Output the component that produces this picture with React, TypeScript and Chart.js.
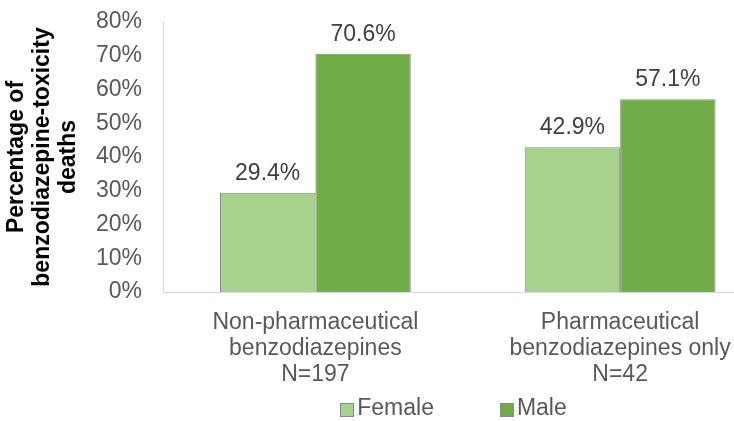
import React, { useEffect, useRef } from "react";
import { Chart, registerables } from "chart.js";

Chart.register(...registerables);

const categories: string[][] = [
  ["Non-pharmaceutical", "benzodiazepines", "N=197"],
  ["Pharmaceutical", "benzodiazepines only", "N=42"],
];
const seriesNames = ["Female", "Male"];
const femaleValues = [29.4, 42.9];
const maleValues = [70.6, 57.1];
const yMin = 0;
const yMax = 80;
const yStep = 10;
const yTitle = ["Percentage of", "benzodiazepine-toxicity", "deaths"];

const FONT = "'Liberation Sans', Arial, sans-serif";
const FEMALE_COLOR = "#A9D18E";
const MALE_COLOR = "#70AD47";
const BAR_BORDER = "#8a8a8a";
const AXIS_COLOR = "#d9d9d9";
const TEXT_COLOR = "#595959";
const LABEL_COLOR = "#404040";

const dataLabelPlugin = {
  id: "dataLabels",
  afterDatasetsDraw(chart: any) {
    const ctx = chart.ctx;
    ctx.save();
    ctx.font = `23px ${FONT}`;
    ctx.fillStyle = LABEL_COLOR;
    ctx.textAlign = "center";
    ctx.textBaseline = "alphabetic";
    chart.data.datasets.forEach((ds: any, i: number) => {
      const meta = chart.getDatasetMeta(i);
      meta.data.forEach((el: any, j: number) => {
        const v = ds.data[j] as number;
        ctx.fillText(v.toFixed(1) + "%", el.x, el.y - 13);
      });
    });
    ctx.restore();
  },
};

const customLegendPlugin = {
  id: "customLegend",
  afterDraw(chart: any) {
    const ctx = chart.ctx;
    ctx.save();
    ctx.font = `23px ${FONT}`;
    const box = 13;
    const gapText = 4;
    const gapItems = 66;
    const items = chart.data.datasets.map((ds: any) => ({
      label: ds.label as string,
      color: ds.backgroundColor as string,
      w: ctx.measureText(ds.label).width,
    }));
    let total = 0;
    items.forEach((it: any, i: number) => {
      total += box + gapText + it.w + (i < items.length - 1 ? gapItems : 0);
    });
    let x = chart.width / 2 - total / 2;
    const cy = chart.height - 12;
    items.forEach((it: any) => {
      const bx = Math.round(x) + 0.5;
      const by = Math.round(cy - box / 2) + 0.5;
      ctx.fillStyle = it.color;
      ctx.fillRect(bx, by, box, box);
      ctx.strokeStyle = BAR_BORDER;
      ctx.lineWidth = 1;
      ctx.strokeRect(bx, by, box, box);
      ctx.fillStyle = TEXT_COLOR;
      ctx.textAlign = "left";
      ctx.textBaseline = "middle";
      ctx.fillText(it.label, x + box + gapText, cy);
      x += box + gapText + it.w + gapItems;
    });
    ctx.restore();
  },
};

export default function App() {
  const ref = useRef<HTMLCanvasElement | null>(null);

  useEffect(() => {
    if (!ref.current) return;
    const chart = new Chart(ref.current, {
      type: "bar",
      data: {
        labels: categories,
        datasets: [
          {
            label: seriesNames[0],
            data: femaleValues,
            backgroundColor: FEMALE_COLOR,
            borderColor: BAR_BORDER,
            borderWidth: 1,
            categoryPercentage: 0.626,
            barPercentage: 1,
          },
          {
            label: seriesNames[1],
            data: maleValues,
            backgroundColor: MALE_COLOR,
            borderColor: BAR_BORDER,
            borderWidth: 1,
            categoryPercentage: 0.626,
            barPercentage: 1,
          },
        ],
      },
      options: {
        responsive: false,
        animation: false,
        layout: { padding: { left: 0, top: 22, right: 134.5, bottom: 27 } },
        plugins: {
          legend: { display: false },
          tooltip: { enabled: false },
        },
        scales: {
          x: {
            grid: { display: false, drawTicks: false },
            border: { display: true, color: AXIS_COLOR, width: 1 },
            ticks: {
              color: TEXT_COLOR,
              font: { family: FONT, size: 23, lineHeight: 1.15 },
              padding: 17,
              maxRotation: 0,
              autoSkip: false,
            },
            afterFit(scale: any) {
              scale.height = 102;
            },
          },
          y: {
            min: yMin,
            max: yMax,
            grid: { display: false, drawTicks: true, tickLength: 21 },
            border: { display: true, color: AXIS_COLOR, width: 1 },
            ticks: {
              stepSize: yStep,
              color: TEXT_COLOR,
              font: { family: FONT, size: 23 },
              padding: 0,
              callback: (v: any) => `${v}%`,
            },
            title: {
              display: true,
              text: yTitle,
              color: "#000000",
              font: { family: FONT, size: 23, weight: "bold", lineHeight: 1.15 },
              padding: { top: 3, bottom: 0 },
            },
            afterFit(scale: any) {
              scale.width = 163;
            },
          },
        },
      },
      plugins: [dataLabelPlugin, customLegendPlugin],
    });
    return () => chart.destroy();
  }, []);

  return (
    <div
      style={{
        position: "fixed",
        left: 0,
        top: 0,
        width: 734,
        height: 421,
        overflow: "hidden",
        background: "#ffffff",
      }}
    >
      <canvas ref={ref} width={907} height={421} style={{ display: "block", width: 907, height: 421 }} />
    </div>
  );
}
